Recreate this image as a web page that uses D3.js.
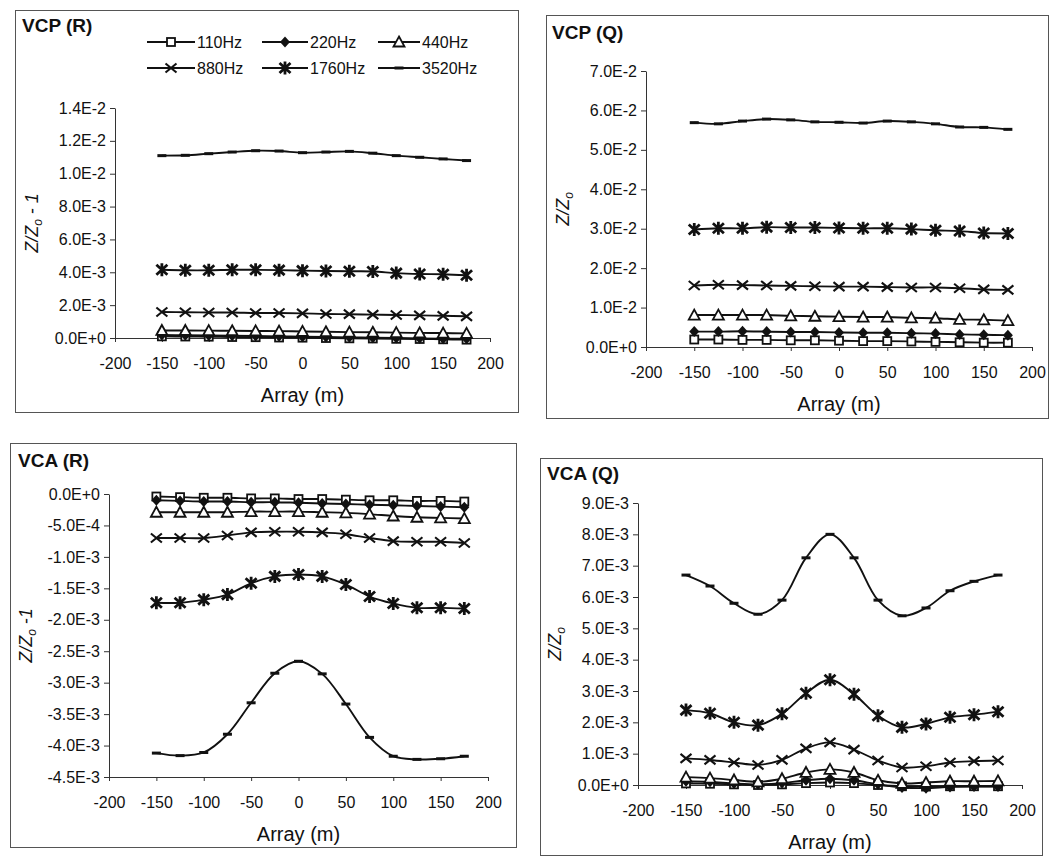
<!DOCTYPE html>
<html>
<head>
<meta charset="utf-8">
<script src="https://cdn.jsdelivr.net/npm/d3@7"></script>
<style>
  html, body { margin: 0; padding: 0; background: #fff; }
  svg { display: block; font-family: "Liberation Sans", Arial, sans-serif; }
</style>
</head>
<body>
<svg id="chart" width="1056" height="861"></svg>
<script>
// Station positions along the array (m)
const arrayPos = [-150, -125, -100, -75, -50, -25, 0, 25, 50, 75, 100, 125, 150, 175];

// Frequencies and their marker symbols
const freqLabels = ["110Hz", "220Hz", "440Hz", "880Hz", "1760Hz", "3520Hz"];
const freqMarkers = ["square", "diamond", "triangle", "cross", "star", "dash"];

// VCP, in-phase (Z/Z0 - 1)
const vcpR110  = [0.10e-3, 0.09e-3, 0.08e-3, 0.06e-3, 0.05e-3, 0.03e-3, 0.02e-3, 0.00e-3, -0.02e-3, -0.03e-3, -0.05e-3, -0.06e-3, -0.08e-3, -0.10e-3];
const vcpR220  = [0.18e-3, 0.17e-3, 0.15e-3, 0.14e-3, 0.12e-3, 0.10e-3, 0.08e-3, 0.06e-3, 0.04e-3, 0.02e-3, 0.00e-3, -0.02e-3, -0.04e-3, -0.05e-3];
const vcpR440  = [0.46e-3, 0.46e-3, 0.45e-3, 0.44e-3, 0.43e-3, 0.42e-3, 0.40e-3, 0.38e-3, 0.36e-3, 0.35e-3, 0.33e-3, 0.31e-3, 0.30e-3, 0.28e-3];
const vcpR880  = [1.58e-3, 1.57e-3, 1.55e-3, 1.55e-3, 1.52e-3, 1.52e-3, 1.50e-3, 1.46e-3, 1.45e-3, 1.42e-3, 1.40e-3, 1.38e-3, 1.35e-3, 1.32e-3];
const vcpR1760 = [4.15e-3, 4.12e-3, 4.12e-3, 4.15e-3, 4.15e-3, 4.13e-3, 4.10e-3, 4.08e-3, 4.06e-3, 4.05e-3, 3.95e-3, 3.90e-3, 3.88e-3, 3.82e-3];
const vcpR3520 = [11.10e-3, 11.12e-3, 11.22e-3, 11.32e-3, 11.40e-3, 11.38e-3, 11.28e-3, 11.32e-3, 11.36e-3, 11.25e-3, 11.10e-3, 11.00e-3, 10.90e-3, 10.80e-3];

// VCP, quadrature (Z/Z0)
const vcpQ110  = [0.19e-2, 0.19e-2, 0.18e-2, 0.18e-2, 0.17e-2, 0.17e-2, 0.16e-2, 0.15e-2, 0.15e-2, 0.14e-2, 0.13e-2, 0.12e-2, 0.11e-2, 0.11e-2];
const vcpQ220  = [0.39e-2, 0.39e-2, 0.40e-2, 0.39e-2, 0.38e-2, 0.38e-2, 0.37e-2, 0.36e-2, 0.36e-2, 0.35e-2, 0.34e-2, 0.32e-2, 0.31e-2, 0.30e-2];
const vcpQ440  = [0.81e-2, 0.81e-2, 0.81e-2, 0.81e-2, 0.79e-2, 0.78e-2, 0.77e-2, 0.76e-2, 0.76e-2, 0.74e-2, 0.73e-2, 0.70e-2, 0.69e-2, 0.67e-2];
const vcpQ880  = [1.56e-2, 1.58e-2, 1.57e-2, 1.56e-2, 1.55e-2, 1.54e-2, 1.53e-2, 1.53e-2, 1.52e-2, 1.51e-2, 1.51e-2, 1.49e-2, 1.46e-2, 1.45e-2];
const vcpQ1760 = [2.98e-2, 3.01e-2, 3.01e-2, 3.04e-2, 3.03e-2, 3.03e-2, 3.02e-2, 3.01e-2, 3.01e-2, 2.99e-2, 2.96e-2, 2.94e-2, 2.89e-2, 2.88e-2];
const vcpQ3520 = [5.69e-2, 5.66e-2, 5.73e-2, 5.78e-2, 5.76e-2, 5.71e-2, 5.70e-2, 5.68e-2, 5.73e-2, 5.71e-2, 5.66e-2, 5.58e-2, 5.57e-2, 5.52e-2];

// VCA, in-phase (Z/Z0 - 1)
const vcaR110  = [-0.04e-3, -0.05e-3, -0.06e-3, -0.06e-3, -0.07e-3, -0.07e-3, -0.08e-3, -0.08e-3, -0.09e-3, -0.10e-3, -0.10e-3, -0.11e-3, -0.11e-3, -0.12e-3];
const vcaR220  = [-0.10e-3, -0.11e-3, -0.12e-3, -0.12e-3, -0.13e-3, -0.13e-3, -0.14e-3, -0.15e-3, -0.16e-3, -0.17e-3, -0.18e-3, -0.19e-3, -0.20e-3, -0.21e-3];
const vcaR440  = [-0.29e-3, -0.29e-3, -0.29e-3, -0.29e-3, -0.28e-3, -0.28e-3, -0.28e-3, -0.29e-3, -0.30e-3, -0.32e-3, -0.35e-3, -0.37e-3, -0.38e-3, -0.39e-3];
const vcaR880  = [-0.70e-3, -0.70e-3, -0.70e-3, -0.66e-3, -0.61e-3, -0.60e-3, -0.60e-3, -0.61e-3, -0.64e-3, -0.70e-3, -0.75e-3, -0.76e-3, -0.76e-3, -0.78e-3];
const vcaR1760 = [-1.73e-3, -1.73e-3, -1.68e-3, -1.60e-3, -1.42e-3, -1.31e-3, -1.28e-3, -1.31e-3, -1.44e-3, -1.63e-3, -1.74e-3, -1.81e-3, -1.81e-3, -1.82e-3];
const vcaR3520 = [-4.12e-3, -4.16e-3, -4.11e-3, -3.82e-3, -3.32e-3, -2.85e-3, -2.66e-3, -2.86e-3, -3.34e-3, -3.87e-3, -4.17e-3, -4.22e-3, -4.21e-3, -4.17e-3];

// VCA, quadrature (Z/Z0)
const vcaQ110  = [0.05e-3, 0.04e-3, 0.02e-3, 0.00e-3, 0.02e-3, 0.06e-3, 0.08e-3, 0.06e-3, 0.00e-3, -0.04e-3, -0.05e-3, -0.04e-3, -0.04e-3, -0.04e-3];
const vcaQ220  = [0.12e-3, 0.10e-3, 0.05e-3, 0.02e-3, 0.06e-3, 0.15e-3, 0.20e-3, 0.15e-3, 0.02e-3, -0.08e-3, -0.10e-3, -0.06e-3, -0.05e-3, -0.05e-3];
const vcaQ440  = [0.25e-3, 0.22e-3, 0.16e-3, 0.10e-3, 0.20e-3, 0.40e-3, 0.50e-3, 0.40e-3, 0.15e-3, 0.05e-3, 0.08e-3, 0.12e-3, 0.12e-3, 0.13e-3];
const vcaQ880  = [0.85e-3, 0.80e-3, 0.72e-3, 0.64e-3, 0.80e-3, 1.17e-3, 1.36e-3, 1.13e-3, 0.78e-3, 0.56e-3, 0.60e-3, 0.72e-3, 0.76e-3, 0.78e-3];
const vcaQ1760 = [2.39e-3, 2.29e-3, 2.00e-3, 1.91e-3, 2.27e-3, 2.93e-3, 3.36e-3, 2.90e-3, 2.21e-3, 1.84e-3, 1.95e-3, 2.16e-3, 2.24e-3, 2.34e-3];
const vcaQ3520 = [6.70e-3, 6.35e-3, 5.80e-3, 5.45e-3, 5.90e-3, 7.25e-3, 8.00e-3, 7.25e-3, 5.90e-3, 5.40e-3, 5.65e-3, 6.20e-3, 6.50e-3, 6.70e-3];

// Axis tick values
const xTicks = [-200, -150, -100, -50, 0, 50, 100, 150, 200];
const vcpRTicks = [0, 0.002, 0.004, 0.006, 0.008, 0.010, 0.012, 0.014];
const vcpQTicks = [0, 0.01, 0.02, 0.03, 0.04, 0.05, 0.06, 0.07];
const vcaRTicks = [0, -0.0005, -0.001, -0.0015, -0.002, -0.0025, -0.003, -0.0035, -0.004, -0.0045];
const vcaQTicks = [0, 0.001, 0.002, 0.003, 0.004, 0.005, 0.006, 0.007, 0.008, 0.009];

// Panel layout
const panels = [
  { title: "VCP (R)", series: [vcpR110, vcpR220, vcpR440, vcpR880, vcpR1760, vcpR3520],
    yTicks: vcpRTicks, yDomain: [0, 0.014], ySuffix: " - 1",
    frame: [15, 10, 518, 412], titlePos: [22, 32],
    xRange: [115, 490], yRange: [338, 108] },
  { title: "VCP (Q)", series: [vcpQ110, vcpQ220, vcpQ440, vcpQ880, vcpQ1760, vcpQ3520],
    yTicks: vcpQTicks, yDomain: [0, 0.07], ySuffix: "",
    frame: [546, 15, 1048, 418], titlePos: [552, 39],
    xRange: [646, 1032], yRange: [347, 71] },
  { title: "VCA (R)", series: [vcaR110, vcaR220, vcaR440, vcaR880, vcaR1760, vcaR3520],
    yTicks: vcaRTicks, yDomain: [-0.0045, 0], ySuffix: " -1",
    frame: [10, 443, 516, 847], titlePos: [18, 467],
    xRange: [109, 488], yRange: [777, 494] },
  { title: "VCA (Q)", series: [vcaQ110, vcaQ220, vcaQ440, vcaQ880, vcaQ1760, vcaQ3520],
    yTicks: vcaQTicks, yDomain: [0, 0.009], ySuffix: "",
    frame: [540, 458, 1042, 855], titlePos: [547, 480],
    xRange: [638, 1022], yRange: [785, 503] }
];

const svg = d3.select("#chart");
const ink = "#111";
const fmtSci = d => (d === 0 ? 0 : d).toExponential(1).toUpperCase();

// Marker glyphs drawn around (0,0)
function drawMarker(g, type) {
  switch (type) {
    case "square":
      g.append("rect").attr("x", -4).attr("y", -4).attr("width", 8).attr("height", 8)
        .attr("fill", "#fff").attr("stroke", ink).attr("stroke-width", 1.8);
      break;
    case "diamond":
      g.append("path").attr("d", "M0,-5.5L5,0L0,5.5L-5,0Z").attr("fill", ink);
      break;
    case "triangle":
      g.append("path").attr("d", "M0,-5.5L5.5,4.5L-5.5,4.5Z")
        .attr("fill", "#fff").attr("stroke", ink).attr("stroke-width", 1.8);
      break;
    case "cross":
      g.append("path").attr("d", "M-5.5,-4.5L5.5,4.5M-5.5,4.5L5.5,-4.5")
        .attr("stroke", ink).attr("stroke-width", 2.1).attr("fill", "none");
      break;
    case "star":
      g.append("path").attr("d", "M-5.5,-5L5.5,5M-5.5,5L5.5,-5M0,-6.5L0,6.5")
        .attr("stroke", ink).attr("stroke-width", 2.8).attr("fill", "none");
      break;
    case "dash":
      g.append("path").attr("d", "M-4.5,0L4.5,0")
        .attr("stroke", ink).attr("stroke-width", 3).attr("fill", "none");
      break;
  }
}

panels.forEach(p => {
  const g = svg.append("g");
  const [fx0, fy0, fx1, fy1] = p.frame;

  // panel border
  g.append("rect").attr("x", fx0 + 0.5).attr("y", fy0 + 0.5)
    .attr("width", fx1 - fx0).attr("height", fy1 - fy0)
    .attr("fill", "none").attr("stroke", "#555").attr("stroke-width", 1);

  const x = d3.scaleLinear().domain([-200, 200]).range(p.xRange);
  const y = d3.scaleLinear().domain(p.yDomain).range(p.yRange);

  // y axis
  const yAxis = g.append("g").attr("transform", `translate(${p.xRange[0]},0)`)
    .call(d3.axisLeft(y).tickValues(p.yTicks).tickFormat(fmtSci)
      .tickSize(5).tickSizeOuter(0).tickPadding(4));
  yAxis.selectAll("text").attr("font-size", 16).attr("fill", ink)
    .attr("font-family", "Liberation Sans, Arial, sans-serif");
  yAxis.selectAll("line, path").attr("stroke", "#333");

  // x axis sits at the lower end of the y domain
  const xAxis = g.append("g").attr("transform", `translate(0,${p.yRange[0]})`)
    .call(d3.axisBottom(x).tickValues(xTicks).tickFormat(d => String(d))
      .tickSize(4).tickSizeOuter(0).tickPadding(16));
  xAxis.selectAll("text").attr("font-size", 16).attr("fill", ink)
    .attr("font-family", "Liberation Sans, Arial, sans-serif");
  xAxis.selectAll("line, path").attr("stroke", "#333");

  // axis titles
  const xMid = (p.xRange[0] + p.xRange[1]) / 2;
  g.append("text").attr("x", xMid).attr("y", p.yRange[0] + 64)
    .attr("text-anchor", "middle").attr("font-size", 20).attr("fill", ink)
    .text("Array (m)");

  const yMid = (p.yRange[0] + p.yRange[1]) / 2;
  const yl = g.append("text")
    .attr("transform", `translate(${p.xRange[0] - 77},${yMid}) rotate(-90)`)
    .attr("text-anchor", "middle").attr("font-size", 18).attr("font-style", "italic")
    .attr("fill", ink);
  yl.append("tspan").text("Z/Z");
  yl.append("tspan").attr("font-size", 12).attr("dy", 4).text("o");
  if (p.ySuffix) yl.append("tspan").attr("dy", -4).text(p.ySuffix);

  // panel title
  g.append("text").attr("x", p.titlePos[0]).attr("y", p.titlePos[1])
    .attr("font-size", 19).attr("font-weight", "bold").attr("fill", ink)
    .text(p.title);

  // series lines and markers
  const line = d3.line()
    .x((d, i) => x(arrayPos[i]))
    .y(d => y(d))
    .curve(d3.curveCatmullRom.alpha(0.5));

  p.series.forEach((vals, si) => {
    g.append("path").datum(vals).attr("d", line)
      .attr("fill", "none").attr("stroke", ink).attr("stroke-width", 1.9);
    g.append("g").selectAll("g").data(vals).join("g")
      .attr("transform", (d, i) => `translate(${x(arrayPos[i])},${y(d)})`)
      .each(function () { drawMarker(d3.select(this), freqMarkers[si]); });
  });
});

// Legend (two rows of three entries)
const legendCols = [[147, 195], [262, 308], [378, 420]];
const legendRows = [42, 68];
const legend = svg.append("g");
freqLabels.forEach((lab, i) => {
  const [lx0, lx1] = legendCols[i % 3];
  const ly = legendRows[Math.floor(i / 3)];
  legend.append("line").attr("x1", lx0).attr("x2", lx1).attr("y1", ly).attr("y2", ly)
    .attr("stroke", ink).attr("stroke-width", 1.9);
  drawMarker(legend.append("g").attr("transform", `translate(${(lx0 + lx1) / 2},${ly})`), freqMarkers[i]);
  legend.append("text").attr("x", lx1 + 2).attr("y", ly + 6)
    .attr("font-size", 16).attr("fill", ink).text(lab);
});
</script>
</body>
</html>
